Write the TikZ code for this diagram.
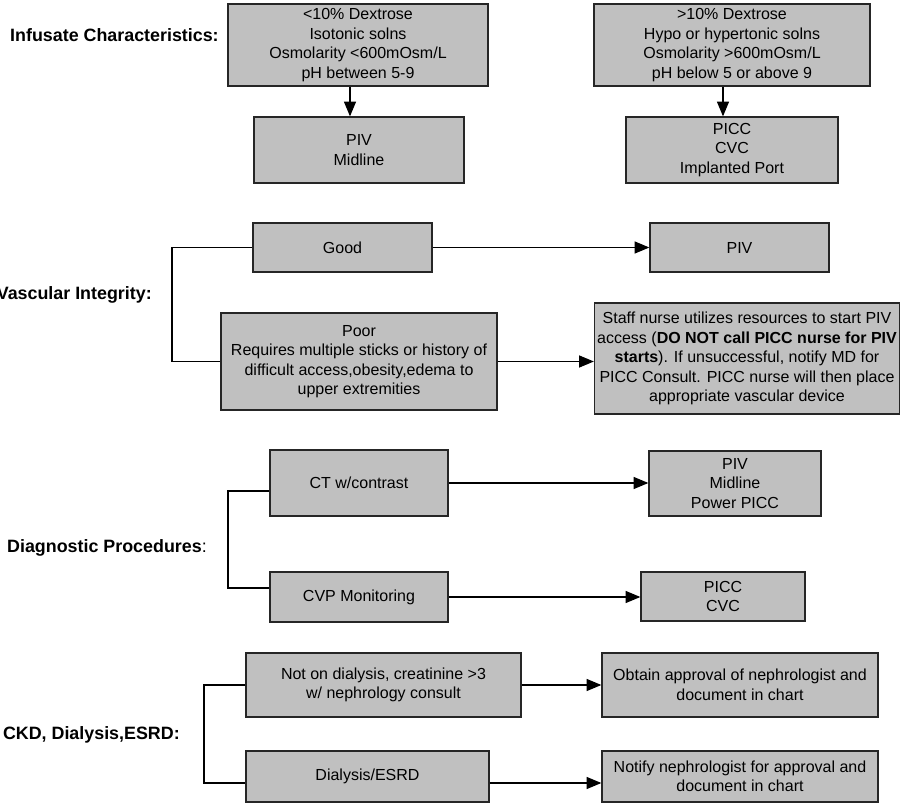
\documentclass[tikz,border=0pt]{standalone}
\usepackage{fontspec}
\setmainfont{Liberation Sans}
\usetikzlibrary{arrows.meta,calc}
\definecolor{boxgray}{HTML}{C0C0C0}
\definecolor{edgegray}{HTML}{262626}
\begin{document}
\begin{tikzpicture}[x=0.75pt,y=-0.75pt,
  box/.style={draw=edgegray, line width=1pt, fill=boxgray, align=center, inner sep=0pt,
              font=\fontsize{12}{14.6}\selectfont},
  sz/.style 2 args={minimum width=#1*0.75pt, minimum height=#2*0.75pt},
  lbl/.style={font=\fontsize{13.4}{16}\selectfont\bfseries, anchor=east, inner sep=0pt},
  arr/.style={-{Triangle[length=11pt,width=9pt]}, line width=0.8pt},
  link/.style={line width=0.8pt}]
\useasboundingbox (0,0) rectangle (901,806);

% ---- Infusate characteristics
\node[lbl] (L1) at (219,35) {Infusate Characteristics:};
\node[box, sz={260}{82}] (A1) at (358,45) {<10\% Dextrose\\Isotonic solns\\Osmolarity <600mOsm/L\\pH between 5-9};
\node[box, sz={276}{82}] (A2) at (732,45) {>10\% Dextrose\\Hypo or hypertonic solns\\Osmolarity >600mOsm/L\\pH below 5 or above 9};
\node[box, sz={210}{66}] (B1) at (359,150) {PIV\\Midline};
\node[box, sz={212}{66}] (B2) at (732,150) {PICC\\CVC\\Implanted Port};
\draw[arr] ([xshift=-6pt]A1.south) -- ([xshift=-6pt]A1.south |- B1.north);
\draw[arr] ([xshift=-6.75pt]A2.south) -- ([xshift=-6.75pt]A2.south |- B2.north);

% ---- Vascular integrity
\node[lbl] (L2) at (152,295) {Vascular Integrity:};
\node[box, sz={179}{49}] (G) at (342.5,247.5) {Good};
\node[box, sz={179}{49}] (GP) at (739.5,247.5) {PIV};
\node[box, sz={276}{97}] (P) at (359,361.5) {Poor\\Requires multiple sticks or history of\\difficult access,obesity,edema to\\upper extremities};
\node[box, sz={305}{111}] (S) at (747,358.5) {Staff nurse utilizes resources to start PIV\\access (\textbf{DO NOT call PICC nurse for PIV}\\\textbf{starts}). If unsuccessful, notify MD for\\PICC Consult. PICC nurse will then place\\appropriate vascular device};
\coordinate (vx) at (172,0);
\draw[link] (G.west) -- (G.west -| vx) |- (P.west);
\draw[arr] (G.east) -- (G.east -| GP.west);
\draw[arr] (P.east) -- (P.east -| S.west);

% ---- Diagnostic procedures
\node[lbl] (L3) at (207,548) {Diagnostic Procedures\mdseries:};
\node[box, sz={178}{66}] (CT) at (359,483) {CT w/contrast};
\node[box, sz={178}{50}] (CVP) at (359,597) {CVP Monitoring};
\node[box, sz={172}{65}] (D1) at (735,483.5) {PIV\\Midline\\Power PICC};
\node[box, sz={164}{49}] (D2) at (723,596.5) {PICC\\CVC};
\coordinate (dx) at (228,0);
\draw[link] ([yshift=-6pt]CT.west) -- ([yshift=-6pt]CT.west -| dx) |- ([yshift=6.75pt]CVP.west);
\draw[arr] (CT.east) -- (CT.east -| D1.west);
\draw[arr] (CVP.east) -- (CVP.east -| D2.west);

% ---- CKD
\node[lbl] (L4) at (180,735) {CKD, Dialysis,ESRD:};
\node[box, sz={275}{64}] (N) at (383.5,685) {Not on dialysis, creatinine >3\\w/ nephrology consult};
\node[box, sz={243}{51}] (E) at (367.5,776.5) {Dialysis/ESRD};
\node[box, sz={276}{64}] (O) at (740,685) {Obtain approval of nephrologist and\\document in chart};
\node[box, sz={276}{51}] (F) at (740,776.5) {Notify nephrologist for approval and\\document in chart};
\coordinate (cx) at (204,0);
\draw[link] (N.west) -- (N.west -| cx) |- ([yshift=-4.875pt]E.west);
\draw[arr] (N.east) -- (N.east -| O.west);
\draw[arr] ([yshift=-4.875pt]E.east) -- ([yshift=-4.875pt]E.east -| F.west);
\end{tikzpicture}
\end{document}
